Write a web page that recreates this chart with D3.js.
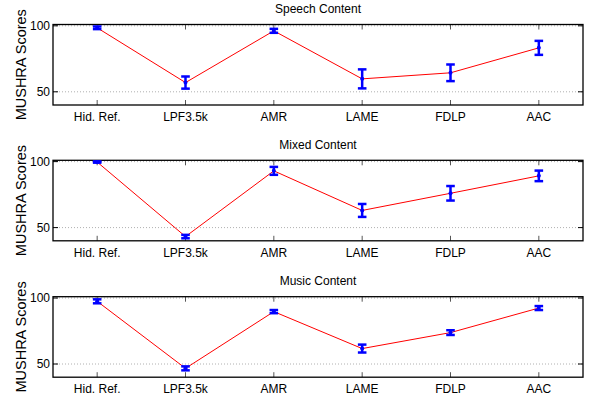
<!DOCTYPE html>
<html>
<head>
<meta charset="utf-8">
<script src="https://cdn.jsdelivr.net/npm/d3@7"></script>
<style>
  body { margin: 0; background: #fff; }
  text { font-family: "Liberation Sans", Arial, Helvetica, sans-serif; fill: #000; }
</style>
</head>
<body>
<div id="chart"></div>
<script>
var categories = ["Hid. Ref.", "LPF3.5k", "AMR", "LAME", "FDLP", "AAC"];
var titles = ["Speech Content", "Mixed Content", "Music Content"];
var yTicks = [50, 100];

var speechMean = [98.5, 57.0, 96.2, 59.8, 64.4, 83.3];
var speechErr  = [1.0, 4.6, 1.5, 7.2, 6.3, 5.3];
var mixedMean  = [99.7, 43.2, 93.0, 63.0, 76.0, 89.2];
var mixedErr   = [0.5, 1.3, 3.0, 4.9, 5.5, 4.0];
var musicMean  = [97.5, 46.7, 89.7, 61.7, 73.8, 92.4];
var musicErr   = [1.5, 1.5, 1.2, 3.0, 1.8, 1.5];

var means = [speechMean, mixedMean, musicMean];
var errs = [speechErr, mixedErr, musicErr];

var width = 593, height = 403;
var left = 53, right = 583;
var panelTops = [24.5, 160.3, 296.7];
var panelH = 80.5;

var svg = d3.select("#chart").append("svg")
  .attr("width", width)
  .attr("height", height);

var x = d3.scaleLinear().domain([0.5, 6.5]).range([left, right]);

titles.forEach(function(title, p) {
  var top = panelTops[p];
  var y = d3.scaleLinear().domain([40, 101]).range([top + panelH, top]);
  var g = svg.append("g");

  // grid
  g.selectAll("line.grid").data(yTicks).enter().append("line")
    .attr("x1", left).attr("x2", right)
    .attr("y1", d => y(d)).attr("y2", d => y(d))
    .attr("stroke", "#b0b0b0")
    .attr("stroke-width", 1)
    .attr("stroke-dasharray", "1,2");

  // ticks inside the box
  categories.forEach(function(c, i) {
    var xx = x(i + 1);
    g.append("line").attr("x1", xx).attr("x2", xx)
      .attr("y1", top + panelH).attr("y2", top + panelH - 5)
      .attr("stroke", "#555");
    g.append("line").attr("x1", xx).attr("x2", xx)
      .attr("y1", top).attr("y2", top + 5)
      .attr("stroke", "#555");
    g.append("text")
      .attr("x", xx).attr("y", top + panelH + 16)
      .attr("text-anchor", "middle")
      .attr("font-size", 12)
      .text(c);
  });
  yTicks.forEach(function(t) {
    g.append("line").attr("x1", left).attr("x2", left + 5)
      .attr("y1", y(t)).attr("y2", y(t)).attr("stroke", "#000");
    g.append("line").attr("x1", right).attr("x2", right - 5)
      .attr("y1", y(t)).attr("y2", y(t)).attr("stroke", "#000");
    g.append("text")
      .attr("x", left - 3).attr("y", y(t))
      .attr("dy", "0.36em")
      .attr("text-anchor", "end")
      .attr("font-size", 12)
      .text(t);
  });

  // frame
  g.append("rect")
    .attr("x", left).attr("y", top)
    .attr("width", right - left).attr("height", panelH)
    .attr("fill", "none")
    .attr("stroke", "#000")
    .attr("stroke-width", 1.3);

  var data = means[p].map(function(m, i) { return { i: i + 1, m: m, e: errs[p][i] }; });

  // mean line
  g.append("path")
    .datum(data)
    .attr("fill", "none")
    .attr("stroke", "#ff0000")
    .attr("stroke-width", 1)
    .attr("d", d3.line().x(d => x(d.i)).y(d => y(d.m)));

  // error bars
  var eb = g.selectAll("g.eb").data(data).enter().append("g");
  eb.append("line")
    .attr("x1", d => x(d.i)).attr("x2", d => x(d.i))
    .attr("y1", d => y(d.m - d.e)).attr("y2", d => y(d.m + d.e))
    .attr("stroke", "#0000ff").attr("stroke-width", 2.5);
  eb.append("line")
    .attr("x1", d => x(d.i) - 4.3).attr("x2", d => x(d.i) + 4.3)
    .attr("y1", d => y(d.m - d.e)).attr("y2", d => y(d.m - d.e))
    .attr("stroke", "#0000ff").attr("stroke-width", 2.5);
  eb.append("line")
    .attr("x1", d => x(d.i) - 4.3).attr("x2", d => x(d.i) + 4.3)
    .attr("y1", d => y(d.m + d.e)).attr("y2", d => y(d.m + d.e))
    .attr("stroke", "#0000ff").attr("stroke-width", 2.5);
  eb.append("circle")
    .attr("cx", d => x(d.i)).attr("cy", d => y(d.m))
    .attr("r", 2).attr("fill", "#0000ff");

  // title
  g.append("text")
    .attr("x", (left + right) / 2).attr("y", top - 11.5)
    .attr("text-anchor", "middle")
    .attr("font-size", 12)
    .text(title);

  // y label
  g.append("text")
    .attr("transform", "translate(26," + (top + panelH / 2) + ") rotate(-90)")
    .attr("text-anchor", "middle")
    .attr("font-size", 14.5)
    .text("MUSHRA Scores");
});
</script>
</body>
</html>
